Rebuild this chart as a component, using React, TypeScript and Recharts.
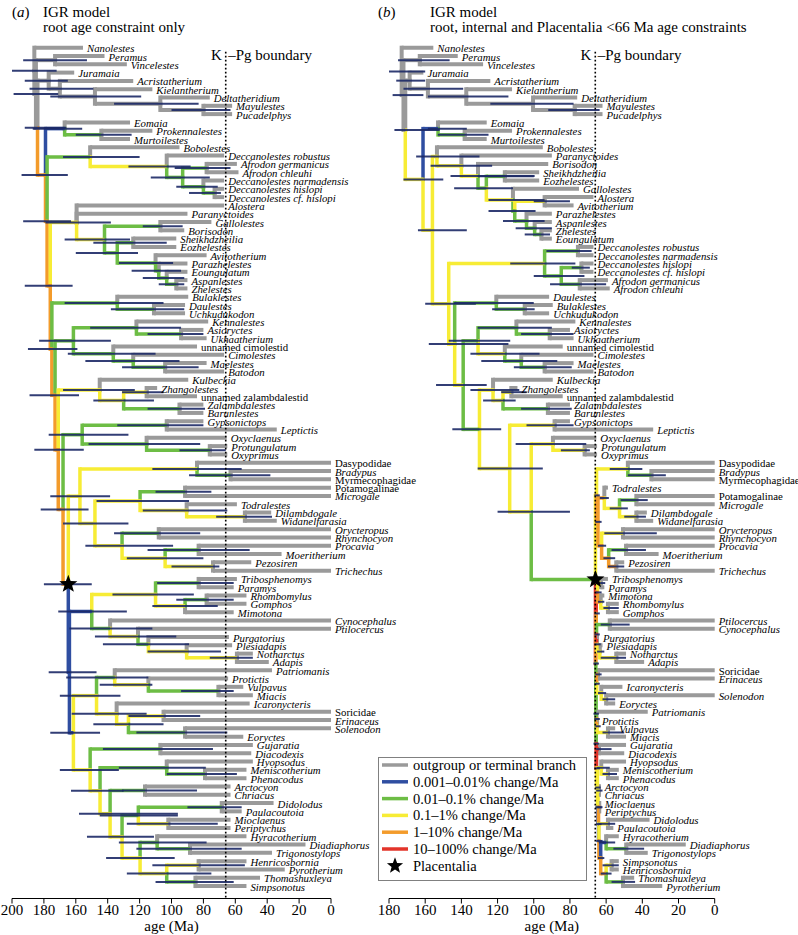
import React from 'react'
import { ComposedChart, XAxis, YAxis, ReferenceLine, Scatter } from 'recharts'

const SERIF = "'Liberation Serif', 'Times New Roman', Times, serif"

// rate classes of the branches
const rateColors: Record<string, string> = {
  g: '#9a9a9a',
  b: '#2f4ea1',
  n: '#6dbd45',
  y: '#f7ec35',
  o: '#f39b2b',
  r: '#e3342a',
}
const hpdColor = '#1c2966'

// taxa, top to bottom, panel (a)
const taxaA = [
  'Nanolestes', 'Peramus', 'Vincelestes', 'Juramaia', 'Acristatherium', 'Kielantherium', 'Deltatheridium', 'Mayulestes', 'Pucadelphys',
  'Eomaia', 'Prokennalestes', 'Murtoilestes', 'Bobolestes', 'Deccanolestes robustus', 'Afrodon germanicus', 'Afrodon chleuhi',
  'Deccanolestes narmadensis', 'Deccanolestes hislopi', 'Deccanolestes cf. hislopi', 'Alostera', 'Paranyctoides', 'Gallolestes',
  'Borisodon', 'Sheikhdzheilia', 'Eozhelestes', 'Avitotherium', 'Parazhelestes', 'Eoungulatum', 'Aspanlestes', 'Zhelestes',
  'Bulaklestes', 'Daulestes', 'Uchkudukodon', 'Kennalestes', 'Asioryctes', 'Ukhaatherium', 'unnamed cimolestid', 'Cimolestes',
  'Maelestes', 'Batodon', 'Kulbeckia', 'Zhangolestes', 'unnamed zalambdalestid', 'Zalambdalestes', 'Barunlestes', 'Gypsonictops',
  'Leptictis', 'Oxyclaenus', 'Protungulatum', 'Oxyprimus', 'Dasypodidae', 'Bradypus', 'Myrmecophagidae', 'Potamogalinae', 'Microgale',
  'Todralestes', 'Dilambdogale', 'Widanelfarasia', 'Orycteropus', 'Rhynchocyon', 'Procavia', 'Moeritherium', 'Pezosiren', 'Trichechus',
  'Tribosphenomys', 'Paramys', 'Rhombomylus', 'Gomphos', 'Mimotona', 'Cynocephalus', 'Ptilocercus', 'Purgatorius', 'Plesiadapis',
  'Notharctus', 'Adapis', 'Patriomanis', 'Protictis', 'Vulpavus', 'Miacis', 'Icaronycteris', 'Soricidae', 'Erinaceus', 'Solenodon',
  'Eoryctes', 'Gujaratia', 'Diacodexis', 'Hyopsodus', 'Meniscotherium', 'Phenacodus', 'Arctocyon', 'Chriacus', 'Didolodus',
  'Paulacoutoia', 'Mioclaenus', 'Periptychus', 'Hyracotherium', 'Diadiaphorus', 'Trigonostylops', 'Henricosbornia', 'Pyrotherium',
  'Thomashuxleya', 'Simpsonotus',
]

// tip (fossil) ages in Ma, same order as taxaA
const tipAges = [
  155.5, 142, 128, 161, 124, 112, 76, 62, 62,
  126, 112, 126, 95, 67, 59, 58, 67, 67, 67,
  67, 90, 75, 92, 97, 97, 78, 90, 90, 90, 90,
  89.5, 91.5, 91.5, 77, 80, 78, 84, 67, 78, 67,
  89.5, 109, 84, 80, 80, 80, 34, 65.4, 65, 65,
  0, 0, 0, 0, 0, 59, 37.5, 34, 0, 0,
  0, 31, 50, 0, 59, 61, 53, 53, 61, 0,
  0, 64, 62, 49, 39, 37, 64.5, 55, 49, 51,
  0, 0, 0, 55, 49, 50, 49, 53, 53, 63,
  63, 36, 56, 63, 63, 53, 16, 37, 53, 29, 44.5, 53,
]

// taxa, top to bottom, panel (b)
const taxaB = [
  'Nanolestes', 'Peramus', 'Vincelestes', 'Juramaia', 'Acristatherium', 'Kielantherium', 'Deltatheridium', 'Mayulestes', 'Pucadelphys',
  'Eomaia', 'Prokennalestes', 'Murtoilestes', 'Bobolestes', 'Paranyctoides', 'Borisodon', 'Sheikhdzheilia', 'Eozhelestes', 'Gallolestes',
  'Alostera', 'Avitotherium', 'Parazhelestes', 'Aspanlestes', 'Zhelestes', 'Eoungulatum', 'Deccanolestes robustus',
  'Deccanolestes narmadensis', 'Deccanolestes hislopi', 'Deccanolestes cf. hislopi', 'Afrodon germanicus', 'Afrodon chleuhi',
  'Daulestes', 'Bulaklestes', 'Uchkudukodon', 'Kennalestes', 'Asioryctes', 'Ukhaatherium', 'unnamed cimolestid', 'Cimolestes',
  'Maelestes', 'Batodon', 'Kulbeckia', 'Zhangolestes', 'unnamed zalambdalestid', 'Zalambdalestes', 'Barunlestes', 'Gypsonictops',
  'Leptictis', 'Oxyclaenus', 'Protungulatum', 'Oxyprimus', 'Dasypodidae', 'Bradypus', 'Myrmecophagidae', 'Todralestes',
  'Potamogalinae', 'Microgale', 'Dilambdogale', 'Widanelfarasia', 'Orycteropus', 'Rhynchocyon', 'Procavia', 'Moeritherium',
  'Pezosiren', 'Trichechus', 'Tribosphenomys', 'Paramys', 'Mimotona', 'Rhombomylus', 'Gomphos', 'Ptilocercus', 'Cynocephalus',
  'Purgatorius', 'Plesiadapis', 'Notharctus', 'Adapis', 'Soricidae', 'Erinaceus', 'Icaronycteris', 'Solenodon', 'Eoryctes',
  'Patriomanis', 'Protictis', 'Vulpavus', 'Miacis', 'Gujaratia', 'Diacodexis', 'Hyopsodus', 'Meniscotherium', 'Phenacodus',
  'Arctocyon', 'Chriacus', 'Mioclaenus', 'Periptychus', 'Didolodus', 'Paulacoutoia', 'Hyracotherium', 'Diadiaphorus',
  'Trigonostylops', 'Simpsonotus', 'Henricosbornia', 'Thomashuxleya', 'Pyrotherium',
]

const romanNames = ['Dasypodidae', 'Myrmecophagidae', 'Potamogalinae', 'Soricidae', 'unnamed cimolestid', 'unnamed zalambdalestid']

// clades: [first row, last row, node age, rate class of its stem, 95% HPD low, HPD high]
type Clade = [number, number, number, string, number, number]

const cladesA: Clade[] = [
  [1, 102, 186, 'g', 172, 200], [2, 102, 185, 'g', 171, 199], [2, 3, 173, 'g', 153, 193],
  [4, 102, 184, 'g', 166, 192], [4, 9, 177, 'g', 165, 192], [5, 9, 170, 'g', 149, 189],
  [6, 9, 148, 'g', 119, 176], [7, 9, 107, 'g', 83, 136], [8, 9, 80, 'g', 63, 100],
  [10, 102, 179, 'o', 165, 194], [10, 12, 167, 'b', 156, 187], [11, 12, 144, 'n', 125, 160],
  [13, 102, 178, 'o', 163, 193], [13, 19, 151, 'n', 120, 168], [14, 19, 103, 'y', 88, 127],
  [15, 19, 93, 'n', 76, 113], [15, 16, 78, 'n', 63, 98], [17, 19, 80, 'n', 71, 97], [18, 19, 73, 'n', 69, 89],
  [20, 102, 176, 'o', 162, 192], [20, 30, 159.5, 'y', 138, 179], [22, 30, 142, 'y', 126, 167],
  [22, 23, 107, 'n', 93, 118], [24, 30, 134, 'n', 121, 160], [24, 25, 124, 'n', 103, 149],
  [26, 30, 110, 'n', 99, 133], [27, 30, 108, 'n', 94, 125], [28, 30, 103, 'n', 92, 118], [29, 30, 97, 'n', 92, 108],
  [31, 102, 175, 'o', 159, 190], [31, 33, 134, 'n', 105, 167], [32, 33, 111, 'n', 92, 138],
  [34, 102, 173, 'o', 158, 189], [34, 40, 161.5, 'n', 138, 183], [34, 36, 122, 'n', 94, 151],
  [35, 36, 94, 'n', 80, 115], [37, 40, 136.5, 'n', 110, 165], [38, 40, 124, 'n', 95, 154], [39, 40, 104, 'n', 83, 131],
  [41, 102, 171, 'o', 155, 186], [41, 45, 145, 'y', 123, 168], [42, 45, 130, 'y', 111, 149],
  [42, 43, 115.6, 'y', 105, 131], [44, 45, 95, 'n', 79, 115],
  [46, 102, 168, 'o', 152, 182], [46, 50, 156, 'n', 127, 177], [46, 47, 103, 'n', 80, 134],
  [48, 50, 115.6, 'n', 82, 152], [49, 50, 76, 'n', 66, 95],
  [51, 102, 164.7, 'o', 150, 180], [51, 64, 157.4, 'y', 138.5, 176], [51, 53, 84, 'y', 56, 112], [52, 53, 63, 'n', 38, 89],
  [54, 64, 148, 'y', 127, 168], [54, 58, 119.7, 'y', 89, 147], [54, 55, 91.5, 'n', 75, 110],
  [56, 58, 90.5, 'y', 65, 118], [57, 58, 54, 'y', 37, 72], [59, 64, 131, 'y', 99, 154],
  [59, 60, 108, 'n', 82, 136], [61, 64, 104, 'y', 80, 128], [61, 62, 83, 'n', 51, 115], [63, 64, 74, 'y', 70, 100],
  [65, 102, 164, 'b', 147, 177], [65, 75, 150, 'b', 128, 171], [65, 69, 110, 'y', 86, 137],
  [65, 66, 83, 'n', 61, 109], [67, 69, 91.5, 'y', 71, 112], [67, 68, 78, 'n', 61, 97],
  [70, 75, 138.5, 'n', 112, 164], [71, 75, 121, 'y', 97, 148], [72, 75, 114.5, 'n', 89, 143],
  [73, 75, 90.5, 'y', 69, 115], [74, 75, 59, 'y', 49, 76],
  [76, 102, 161.5, 'b', 144.8, 176], [76, 84, 147, 'y', 132, 170], [76, 79, 135.6, 'n', 114.5, 166],
  [77, 79, 114.5, 'y', 112, 145], [78, 79, 70.6, 'n', 61, 94], [80, 84, 134.4, 'y', 115.6, 162.6],
  [81, 84, 127, 'y', 105, 149], [81, 82, 105, 'y', 82, 127], [83, 84, 91.5, 'n', 65, 122],
  [85, 102, 151, 'y', 133, 170], [85, 86, 107, 'n', 74, 143], [87, 102, 144.8, 'y', 130, 163],
  [87, 89, 103, 'n', 78.5, 133], [88, 89, 79, 'n', 59, 103], [90, 102, 138.5, 'y', 96, 158],
  [90, 91, 116.6, 'n', 84, 131], [92, 102, 131, 'y', 111, 153], [92, 95, 120.8, 'n', 96, 145],
  [92, 93, 68.5, 'n', 56, 90], [94, 95, 102, 'y', 71, 128], [96, 102, 119.7, 'y', 98, 141],
  [96, 98, 109, 'n', 78, 133], [97, 98, 88.4, 'n', 56, 122], [99, 102, 103, 'y', 75, 128],
  [99, 100, 83, 'y', 54, 112], [101, 102, 85, 'n', 61, 110],
]

const cladesB: Clade[] = [
  [1, 102, 173, 'g', 160, 180], [2, 102, 172, 'g', 161, 178], [2, 3, 163, 'g', 146.5, 175],
  [4, 102, 171, 'g', 152, 177], [4, 9, 168.6, 'g', 160, 176], [5, 9, 158.5, 'g', 139, 172],
  [6, 9, 137.3, 'g', 114, 158.5], [7, 9, 100.4, 'g', 78, 124], [8, 9, 77.4, 'g', 63.6, 92],
  [10, 102, 161.2, 'y', 150, 172], [10, 12, 152.9, 'b', 137, 158.5], [11, 12, 138.2, 'n', 125, 153],
  [13, 102, 156, 'y', 137, 164], [13, 24, 153.5, 'y', 130, 165], [14, 24, 140, 'y', 123, 157],
  [15, 24, 130.8, 'y', 99.5, 146], [16, 24, 126.2, 'n', 111.5, 144], [16, 17, 116, 'n', 100, 131],
  [18, 24, 111.5, 'y', 94, 125], [19, 24, 110.5, 'n', 99, 125], [19, 20, 94, 'y', 80, 100],
  [21, 24, 104, 'n', 94, 117], [22, 24, 99.5, 'n', 90, 110], [23, 24, 95.8, 'n', 91, 105],
  [25, 102, 147, 'y', 132, 160], [25, 30, 94, 'y', 77, 113], [25, 26, 75.6, 'n', 68, 93],
  [27, 30, 84.8, 'n', 72, 100], [27, 28, 73.7, 'n', 69, 79], [29, 30, 74.6, 'n', 60, 91],
  [31, 102, 143.7, 'y', 114, 158], [31, 33, 120.7, 'n', 100, 144], [32, 33, 105, 'n', 99.5, 123],
  [34, 102, 139, 'y', 126, 154], [34, 40, 130.8, 'n', 113, 147], [34, 36, 109.6, 'n', 90, 131],
  [35, 36, 91.2, 'n', 78, 107], [37, 40, 116, 'y', 96.8, 135], [38, 40, 106.9, 'n', 87, 129], [39, 40, 94, 'n', 79, 111],
  [41, 102, 130, 'n', 118, 145], [41, 45, 122.5, 'y', 108, 135], [42, 45, 117, 'y', 110, 128],
  [42, 43, 112.4, 'y', 104, 118], [44, 45, 92.2, 'n', 79, 107],
  [46, 102, 113.3, 'y', 95, 131], [46, 47, 88.5, 'y', 78, 104], [48, 102, 101.4, 'y', 80, 120],
  [48, 50, 89.4, 'y', 71, 110], [49, 50, 71.9, 'y', 69, 85],
  [51, 102, 65.9, 'n', 64.5, 66.5], [51, 64, 65.3, 'y', 63.5, 66.5], [51, 53, 48, 'y', 40, 58], [52, 53, 35, 'n', 27, 48],
  [54, 64, 64.5, 'o', 62.5, 66], [54, 58, 61, 'o', 58.5, 63.5], [55, 58, 52.6, 'y', 48, 58],
  [55, 56, 43.3, 'n', 37, 52], [57, 58, 43.3, 'y', 38, 50], [59, 64, 62.5, 'o', 60, 64.5],
  [59, 60, 50.7, 'y', 32, 61], [61, 64, 58.6, 'o', 55, 61.5], [61, 62, 49, 'n', 38, 57], [63, 64, 54.4, 'o', 50, 59],
  [65, 102, 65.7, 'r', 64, 67], [65, 75, 65.5, 'o', 63.5, 66.5], [65, 69, 64.8, 'r', 62.5, 66],
  [65, 66, 63, 'y', 60.5, 64.5], [67, 69, 63, 'o', 61, 64.5], [68, 69, 59, 'y', 53, 61.5],
  [70, 75, 65.3, 'o', 63.5, 66.5], [70, 71, 58, 'n', 47, 63], [72, 75, 65.1, 'r', 63, 66.5],
  [73, 75, 63.5, 'y', 61, 65], [74, 75, 54.4, 'y', 49, 63],
  [76, 102, 65.6, 'n', 64, 67], [76, 80, 65.2, 'n', 63.5, 66.5], [76, 77, 64.5, 'o', 62.5, 66],
  [78, 80, 62.7, 'y', 60, 64.5], [79, 80, 60, 'y', 55, 62],
  [81, 102, 65.5, 'n', 64, 67], [81, 84, 65.3, 'n', 63.5, 66.5], [82, 84, 65, 'o', 63, 66], [83, 84, 59, 'y', 50, 62],
  [85, 102, 65.3, 'r', 63.5, 66.5], [85, 86, 64, 'r', 57, 65.5], [87, 102, 64.8, 'y', 63, 66],
  [87, 89, 62.7, 'y', 58, 65], [88, 89, 59, 'y', 54, 62], [90, 102, 64.5, 'y', 62.5, 66],
  [90, 91, 64, 'y', 62, 65.5], [92, 102, 64.2, 'b', 62.5, 65.5], [92, 93, 63.8, 'o', 62, 65],
  [94, 102, 64, 'b', 62, 65.5], [94, 95, 59, 'y', 55, 64], [96, 102, 63, 'o', 61, 64.5],
  [96, 98, 60, 'b', 55, 64], [97, 98, 48.9, 'n', 39, 56], [99, 102, 60, 'o', 57, 63],
  [99, 100, 57, 'y', 53, 62], [101, 102, 50.7, 'n', 44, 57],
]

const ticksA = [200, 180, 160, 140, 120, 100, 80, 60, 40, 20, 0]
const ticksB = [180, 160, 140, 120, 100, 80, 60, 40, 20, 0]
const kpgAge = 66
const placentalia = [51, 102]

const legendItems = [
  { label: 'outgroup or terminal branch', cls: 'g' },
  { label: '0.001–0.01% change/Ma', cls: 'b' },
  { label: '0.01–0.1% change/Ma', cls: 'n' },
  { label: '0.1–1% change/Ma', cls: 'y' },
  { label: '1–10% change/Ma', cls: 'o' },
  { label: '10–100% change/Ma', cls: 'r' },
]

type TNode = {
  first: number; last: number; age: number; cls: string; lo: number; hi: number
  y: number; kids: TNode[]; parent: TNode | null; name: string
}

function buildTree(taxa: string[], clades: Clade[]) {
  const leaves: TNode[] = taxa.map((name, i) => ({
    first: i + 1, last: i + 1, age: tipAges[taxaA.indexOf(name)], cls: 'g', lo: NaN, hi: NaN,
    y: i + 1, kids: [], parent: null, name,
  }))
  const inner: TNode[] = clades.map(([first, last, age, cls, lo, hi]) => ({
    first, last, age, cls, lo, hi, y: 0, kids: [], parent: null, name: '',
  }))
  const bySize = [...inner].sort((a, b) => (a.last - a.first) - (b.last - b.first))
  for (const n of [...leaves, ...inner]) {
    const span = n.last - n.first
    const p = bySize.find(c => c !== n && c.first <= n.first && c.last >= n.last && c.last - c.first > span)
    if (p) {
      n.parent = p
      p.kids.push(n)
    }
  }
  for (const n of bySize) {
    n.kids.sort((a, b) => a.first - b.first)
    n.y = (n.kids[0].y + n.kids[n.kids.length - 1].y) / 2
  }
  return { leaves, inner, all: [...leaves, ...inner] }
}

function starPath(cx: number, cy: number, R: number, r: number) {
  let d = ''
  for (let k = 0; k < 10; k++) {
    const rad = k % 2 === 0 ? R : r
    const a = -Math.PI / 2 + (k * Math.PI) / 5
    d += (k ? 'L' : 'M') + (cx + rad * Math.cos(a)).toFixed(2) + ',' + (cy + rad * Math.sin(a)).toFixed(2)
  }
  return d + 'Z'
}

const renderLabel = (p: any) => {
  const name = p.payload.name
  return (
    <text x={p.cx + 4} y={p.cy + 4.5} fontSize={10.8} fontFamily={SERIF} fill="#000"
      fontStyle={romanNames.includes(name) ? 'normal' : 'italic'}>
      {name}
    </text>
  )
}

const renderStar = (p: any) => <path d={starPath(p.cx, p.cy, 9.5, 4)} fill="#000" />

const edgeWidth = (cls: string) => (cls === 'g' ? 4 : 3.5)

function TreePanel({ taxa, clades, maxAge, ticks, width, plotLeft, plotRight }: {
  taxa: string[]; clades: Clade[]; maxAge: number; ticks: number[]; width: number; plotLeft: number; plotRight: number
}) {
  const tree = buildTree(taxa, clades)
  const edges = tree.all.filter(n => n.parent).sort((a, b) => (a.cls === 'g' ? 0 : 1) - (b.cls === 'g' ? 0 : 1))
  const labels = tree.leaves.map(l => ({ x: l.age, y: l.y, name: l.name }))
  const pl = tree.inner.find(n => n.first === placentalia[0] && n.last === placentalia[1])!
  const starData = [{ x: pl.age, y: pl.y }]

  return (
    <ComposedChart width={width} height={935} margin={{ top: 31.1, right: width - plotRight, bottom: 6.5, left: plotLeft }}>
      <XAxis type="number" dataKey="x" domain={[0, maxAge]} reversed ticks={ticks} interval={0}
        tickSize={5} tickMargin={1} height={30} stroke="#000"
        tick={{ fill: '#000', fontSize: 15, fontFamily: SERIF }} />
      <YAxis type="number" dataKey="y" domain={[-1, 103.5]} reversed hide width={0} />
      {edges.map((n, i) => (
        <ReferenceLine key={'v' + i} ifOverflow="visible" stroke={rateColors[n.cls]} strokeWidth={edgeWidth(n.cls)}
          strokeLinecap="square"
          segment={[{ x: n.parent!.age, y: n.parent!.y }, { x: n.parent!.age, y: n.y }]} />
      ))}
      {edges.map((n, i) => (
        <ReferenceLine key={'h' + i} ifOverflow="visible" stroke={rateColors[n.cls]} strokeWidth={edgeWidth(n.cls)}
          segment={[{ x: n.parent!.age, y: n.y }, { x: n.age, y: n.y }]} />
      ))}
      {tree.inner.map((n, i) => (
        <ReferenceLine key={'e' + i} ifOverflow="visible" stroke={hpdColor} strokeOpacity={0.9} strokeWidth={2}
          segment={[{ x: n.hi, y: n.y }, { x: n.lo, y: n.y }]} />
      ))}
      <ReferenceLine ifOverflow="visible" stroke="#000" strokeWidth={1.6} strokeDasharray="1.6 2.4"
        segment={[{ x: kpgAge, y: 1.5 }, { x: kpgAge, y: 103.5 }]} />
      <Scatter data={labels} shape={renderLabel} isAnimationActive={false} />
      <Scatter data={starData} shape={renderStar} isAnimationActive={false} />
    </ComposedChart>
  )
}

const panelA = { left: 0, width: 430, plotLeft: 12, plotRight: 331, maxAge: 200 }
const panelB = { left: 370, width: 428, plotLeft: 19, plotRight: 344.7, maxAge: 180 }
const pageX = (p: typeof panelA, age: number) =>
  p.left + p.plotLeft + ((p.maxAge - age) / p.maxAge) * (p.plotRight - p.plotLeft)

export default function App() {
  const kA = pageX(panelA, kpgAge)
  const kB = pageX(panelB, kpgAge)
  const midA = (pageX(panelA, panelA.maxAge) + pageX(panelA, 0)) / 2
  const midB = (pageX(panelB, panelB.maxAge) + pageX(panelB, 0)) / 2
  return (
    <div style={{ position: 'absolute', left: 0, top: 0, width: 798, height: 935, background: '#fff', overflow: 'hidden' }}>
      <div style={{ position: 'absolute', left: panelA.left, top: 0 }}>
        <TreePanel taxa={taxaA} clades={cladesA} maxAge={panelA.maxAge} ticks={ticksA}
          width={panelA.width} plotLeft={panelA.plotLeft} plotRight={panelA.plotRight} />
      </div>
      <div style={{ position: 'absolute', left: panelB.left, top: 0 }}>
        <TreePanel taxa={taxaB} clades={cladesB} maxAge={panelB.maxAge} ticks={ticksB}
          width={panelB.width} plotLeft={panelB.plotLeft} plotRight={panelB.plotRight} />
      </div>
      <svg width={798} height={935} style={{ position: 'absolute', left: 0, top: 0, pointerEvents: 'none' }}
        fontFamily={SERIF} fill="#000">
        <text x={12} y={17} fontSize={15}>(<tspan fontStyle="italic">a</tspan>)</text>
        <text x={43} y={17} fontSize={15}>IGR model</text>
        <text x={43} y={31.5} fontSize={15}>root age constraint only</text>
        <text x={378} y={17} fontSize={15}>(<tspan fontStyle="italic">b</tspan>)</text>
        <text x={430} y={17} fontSize={15}>IGR model</text>
        <text x={430} y={31.5} fontSize={15}>root, internal and Placentalia &lt;66 Ma age constraints</text>

        <text x={kA - 4} y={60} fontSize={15} textAnchor="end">K</text>
        <text x={kA + 2.5} y={60} fontSize={15}>–Pg boundary</text>
        <text x={kB - 4} y={60} fontSize={15} textAnchor="end">K</text>
        <text x={kB + 2.5} y={60} fontSize={15}>–Pg boundary</text>

        <text x={midA} y={931} fontSize={15} textAnchor="middle">age (Ma)</text>
        <text x={midB} y={931} fontSize={15} textAnchor="middle">age (Ma)</text>

        <rect x={378.5} y={757.5} width={208} height={123} fill="#fff" stroke="#808080" strokeWidth={1} />
        {legendItems.map((it, i) => (
          <g key={it.label}>
            <line x1={382} x2={408} y1={765 + i * 16.8} y2={765 + i * 16.8} stroke={rateColors[it.cls]} strokeWidth={3.5} />
            <text x={413} y={770 + i * 16.8} fontSize={14.5}>{it.label}</text>
          </g>
        ))}
        <path d={starPath(395, 765 + 6 * 16.8, 8.5, 3.6)} fill="#000" />
        <text x={413} y={770 + 6 * 16.8} fontSize={14.5}>Placentalia</text>
      </svg>
    </div>
  )
}
